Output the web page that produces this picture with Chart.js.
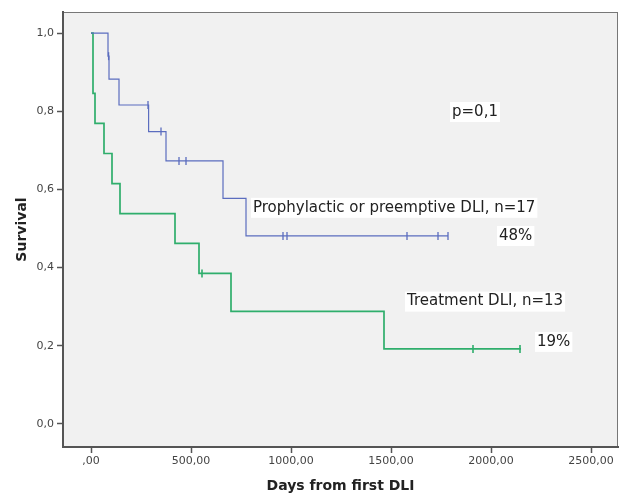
<!DOCTYPE html>
<html>
<head>
<meta charset="utf-8">
<script src="https://cdn.jsdelivr.net/npm/chart.js@4"></script>
<style>
  html, body { margin: 0; padding: 0; background: #fff; }
  #wrap { width: 619px; height: 493px; }
</style>
</head>
<body>
<div id="wrap"><canvas id="myChart" width="619" height="493"></canvas></div>
<script>
// Prophylactic or preemptive DLI (n=17) - step points (day, survival)
const protDays = [0, 85, 90, 140, 288, 375, 660, 775, 1785];
const protSurv = [1.0, 0.941, 0.882, 0.816, 0.748, 0.673, 0.577, 0.481, 0.481];
const protCensorDays = [88, 285, 350, 440, 475, 960, 980, 1580, 1735, 1785];
const protCensorSurv = [0.941, 0.816, 0.748, 0.673, 0.673, 0.481, 0.481, 0.481, 0.481, 0.481];

// Treatment DLI (n=13)
const treatDays = [0, 10, 20, 65, 105, 145, 420, 540, 700, 1465, 2150];
const treatSurv = [1.0, 0.846, 0.769, 0.692, 0.615, 0.538, 0.462, 0.385, 0.288, 0.192, 0.192];
const treatCensorDays = [555, 1910, 2145];
const treatCensorSurv = [0.385, 0.192, 0.192];

const xTicks = [0, 500, 1000, 1500, 2000, 2500];
const yTicks = [0, 0.2, 0.4, 0.6, 0.8, 1.0];

// text labels placed in data coordinates
const labelTexts = ["p=0,1", "Prophylactic or preemptive DLI, n=17", "48%", "Treatment DLI, n=13", "19%"];
const labelDays = [1805, 810, 2040, 1580, 2230];
const labelSurv = [0.798, 0.553, 0.481, 0.313, 0.210];

const blue = '#5b6dbf';
const green = '#2fae6c';

const toPts = (xs, ys) => xs.map((x, i) => ({x: x, y: ys[i]}));

const bgPlugin = {
  id: 'bg',
  beforeDraw(chart) {
    const {ctx, chartArea: a} = chart;
    ctx.save();
    ctx.fillStyle = '#f1f1f1';
    ctx.fillRect(a.left, a.top, a.right - a.left, a.bottom - a.top);
    ctx.strokeStyle = '#777';
    ctx.lineWidth = 1;
    ctx.strokeRect(a.left + 0.5, a.top + 0.5, a.right - a.left - 1, a.bottom - a.top);
    ctx.restore();
  }
};

const labelPlugin = {
  id: 'labels',
  afterDatasetsDraw(chart) {
    const {ctx, scales} = chart;
    ctx.save();
    ctx.font = '15px "DejaVu Sans"';
    ctx.textBaseline = 'middle';
    ctx.textAlign = 'left';
    labelTexts.forEach((t, i) => {
      const px = scales.x.getPixelForValue(labelDays[i]);
      const py = scales.y.getPixelForValue(labelSurv[i]);
      const w = ctx.measureText(t).width;
      ctx.fillStyle = '#fff';
      ctx.fillRect(px - 2, py - 10, w + 4, 20);
      ctx.fillStyle = '#222';
      ctx.fillText(t, px, py);
    });
    ctx.restore();
  }
};

const ctx = document.getElementById('myChart');

new Chart(ctx, {
  type: 'scatter',
  data: {
    datasets: [
      {
        data: toPts(protDays, protSurv),
        showLine: true, stepped: 'before',
        borderColor: blue, borderWidth: 1.2, pointRadius: 0, fill: false
      },
      {
        data: toPts(treatDays, treatSurv),
        showLine: true, stepped: 'before',
        borderColor: green, borderWidth: 1.7, pointRadius: 0, fill: false
      },
      {
        data: toPts(protCensorDays, protCensorSurv),
        showLine: false, pointStyle: 'line', rotation: 90,
        pointRadius: 4, borderColor: blue, borderWidth: 1.3
      },
      {
        data: toPts(treatCensorDays, treatCensorSurv),
        showLine: false, pointStyle: 'line', rotation: 90,
        pointRadius: 4, borderColor: green, borderWidth: 1.6
      }
    ]
  },
  options: {
    responsive: false,
    animation: false,
    devicePixelRatio: 1,
    layout: { autoPadding: false, padding: { top: 12, right: 1, left: 0, bottom: 0 } },
    plugins: { legend: { display: false }, tooltip: { enabled: false } },
    scales: {
      x: {
        type: 'linear', min: -140, max: 2635,
        afterBuildTicks: (s) => { s.ticks = xTicks.map(v => ({value: v})); },
        afterFit: (s) => { s.height = 46; s.paddingLeft = 0; s.paddingRight = 0; },
        grid: { drawOnChartArea: false, drawTicks: true, tickLength: 6, color: '#555', tickWidth: 1.5 },
        border: { display: true, color: '#555', width: 2 },
        ticks: {
          padding: 2, color: '#444', font: { family: 'DejaVu Sans', size: 11 },
          callback: (v) => (v === 0 ? ',00' : v + ',00')
        },
        title: {
          display: true, text: 'Days from first DLI', color: '#222',
          font: { family: 'DejaVu Sans', size: 14, weight: 'bold', lineHeight: 1 },
          padding: { top: 0, bottom: 0 }
        }
      },
      y: {
        type: 'linear', min: -0.059, max: 1.054,
        afterBuildTicks: (s) => { s.ticks = yTicks.map(v => ({value: v})); },
        afterFit: (s) => { s.width = 63; s.paddingTop = 0; s.paddingBottom = 0; },
        grid: { drawOnChartArea: false, drawTicks: true, tickLength: 6, color: '#555', tickWidth: 1.5 },
        border: { display: true, color: '#555', width: 2 },
        ticks: {
          padding: 3, color: '#444', font: { family: 'DejaVu Sans', size: 11 },
          callback: (v) => v.toFixed(1).replace('.', ',')
        },
        title: {
          display: true, text: 'Survival', color: '#222',
          font: { family: 'DejaVu Sans', size: 14, weight: 'bold', lineHeight: 1 },
          padding: { top: 15, bottom: 0 }
        }
      }
    }
  },
  plugins: [bgPlugin, labelPlugin]
});
</script>
</body>
</html>
